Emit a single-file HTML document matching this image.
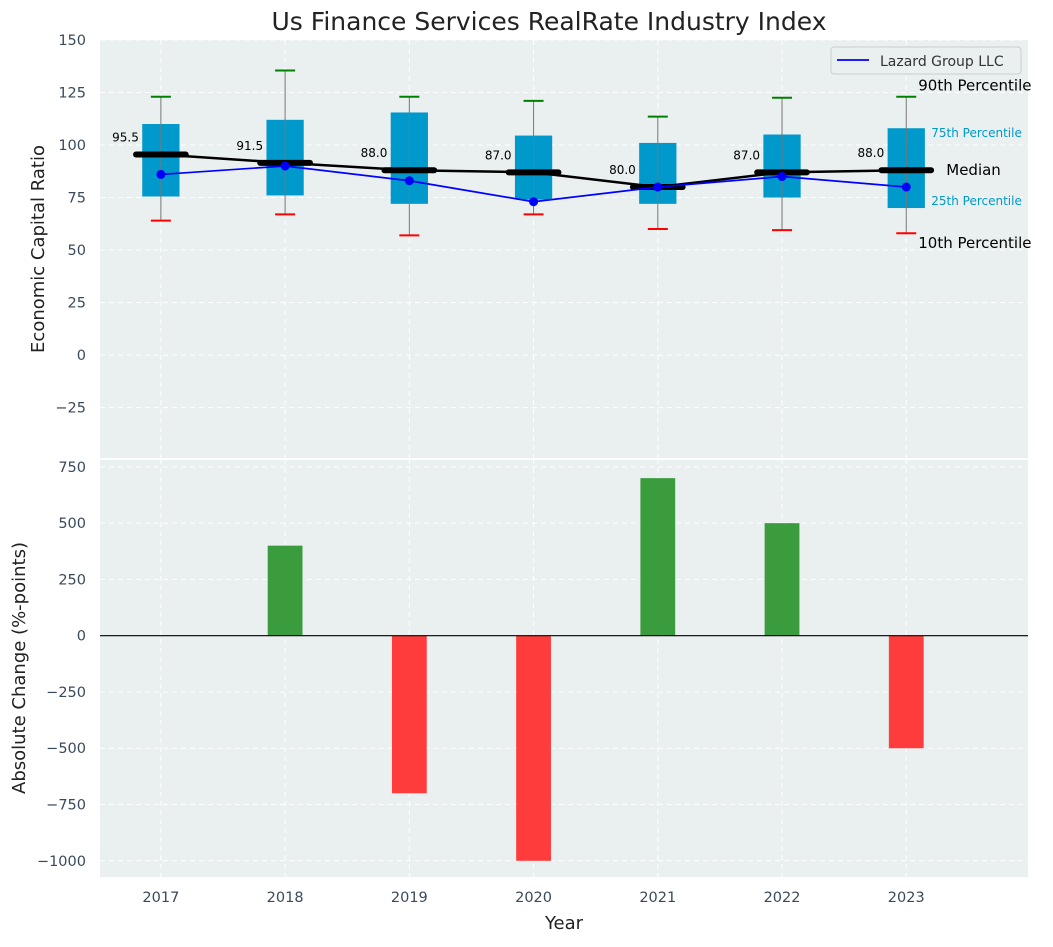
<!DOCTYPE html>
<html><head><meta charset="utf-8"><style>
body{margin:0;background:#fff;font-family:"Liberation Sans","DejaVu Sans",sans-serif}
svg text{font-family:"DejaVu Sans","Liberation Sans",sans-serif}
</style></head><body>
<svg id="c" width="1053" height="942" xmlns="http://www.w3.org/2000/svg"></svg>
<script>
const years=[2017,2018,2019,2020,2021,2022,2023];
const p10=[64,67,57,67,60,59.5,58];
const p25=[75.5,76,72,74,72,75,70];
const med=[95.5,91.5,88,87,80,87,88];
const p75=[110,112,115.5,104.5,101,105,108];
const p90=[123,135.5,123,121,113.5,122.5,123];
const lazard=[86,90,83,73,80,85,80];
const changes=[0,400,-700,-1000,700,500,-500];
const topTicks=[-25,0,25,50,75,100,125,150];
const botTicks=[-1000,-750,-500,-250,0,250,500,750];

const NS="http://www.w3.org/2000/svg";
const svg=document.getElementById('c');
function el(t,a,parent){const e=document.createElementNS(NS,t);for(const k in a)e.setAttribute(k,a[k]);(parent||svg).appendChild(e);return e;}
const L=100,R=1028;
const X=v=>L+(v-2016.51)/(2023.98-2016.51)*(R-L);
const T0=40,T1=458,B0=459,B1=877;
const Yt=v=>T0+(150-v)/(150-(-49))*(T1-T0);
const Yb=v=>B0+(785-v)/(785-(-1072))*(B1-B0);

let e=el('rect',{x:L,y:T0,width:R-L,height:T1-T0,fill:'#eaeff0'});

e=el('rect',{x:L,y:B0+1,width:R-L,height:B1-B0-1,fill:'#eaeff0'});


topTicks.forEach(t=>{const y=Yt(t);
 el('line',{x1:L,x2:R,y1:y,y2:y,stroke:'#fff','stroke-dasharray':'5,4','stroke-width':1});
 const tx=el('text',{x:L-14,y:y+5,'text-anchor':'end','font-size':14.5,fill:'#3a4a5c'});tx.textContent=String(t).replace('-','−');
 });
botTicks.forEach(t=>{const y=Yb(t);
 el('line',{x1:L,x2:R,y1:y,y2:y,stroke:'#fff','stroke-dasharray':'5,4','stroke-width':1});
 const tx=el('text',{x:L-14,y:y+5,'text-anchor':'end','font-size':14.5,fill:'#3a4a5c'});tx.textContent=String(t).replace('-','−');
 });
years.forEach(yr=>{const x=X(yr);
 el('line',{x1:x,x2:x,y1:T0,y2:T1,stroke:'#fff','stroke-dasharray':'5,4'});
 el('line',{x1:x,x2:x,y1:B0,y2:B1,stroke:'#fff','stroke-dasharray':'5,4'});
 const tx=el('text',{x:x,y:B1+25,'text-anchor':'middle','font-size':14.5,fill:'#3a4a5c'});tx.textContent=yr;
 });

const bw=(X(1)-X(0))*0.3;
years.forEach((yr,i)=>{const x=X(yr);
 let r=el('rect',{x:x-bw/2,y:Yt(p75[i]),width:bw,height:Yt(p25[i])-Yt(p75[i]),fill:'#0099cc'});
 
 el('line',{x1:x,x2:x,y1:Yt(p90[i]),y2:Yt(p10[i]),stroke:'#777','stroke-width':1});
 el('line',{x1:x-10,x2:x+10,y1:Yt(p90[i]),y2:Yt(p90[i]),stroke:'green','stroke-width':2});
 el('line',{x1:x-10,x2:x+10,y1:Yt(p10[i]),y2:Yt(p10[i]),stroke:'red','stroke-width':2});
});
let mp=years.map((yr,i)=>X(yr)+','+Yt(med[i])).join(' ');
e=el('polyline',{points:mp,fill:'none',stroke:'#000','stroke-width':2.5});

const mw=(X(1)-X(0))*0.4;
years.forEach((yr,i)=>{const x=X(yr),y=Yt(med[i]);
 const m=el('line',{x1:x-mw/2,x2:x+mw/2,y1:y,y2:y,stroke:'#000','stroke-width':6,'stroke-linecap':'round'});
 
 const t=el('text',{x:x-22,y:y-13,'text-anchor':'end','font-size':12,fill:'#000'});t.textContent=med[i].toFixed(1);
 });
e=el('polyline',{points:years.map((yr,i)=>X(yr)+','+Yt(lazard[i])).join(' '),fill:'none',stroke:'#0000ff','stroke-width':1.7});

years.forEach((yr,i)=>{const c=el('circle',{cx:X(yr),cy:Yt(lazard[i]),r:4.5,fill:'#0000ff'});
 });

const xa=X(2023);
[['90th Percentile',p90[6],12,'#000',15,-6],['75th Percentile',p75[6],25,'#0099cc',12,9],['Median',med[6],40,'#000',15,5],['25th Percentile',p25[6],25,'#0099cc',12,-3],['10th Percentile',p10[6],12,'#000',15,15]]
.forEach(a=>{const t=el('text',{x:xa+a[2],y:Yt(a[1])+a[5],'font-size':a[4],fill:a[3]});t.textContent=a[0];
 });

const lg=el('g',{});
el('rect',{x:831,y:47,width:190,height:27,rx:3,fill:'#eaeff0',stroke:'#ccc'},lg);
el('line',{x1:837,x2:869,y1:60,y2:60,stroke:'#0000ff','stroke-width':1.7},lg);
const lt=el('text',{x:880,y:66,'font-size':14,fill:'#333'},lg);lt.textContent='Lazard Group LLC';

const bbw=(X(1)-X(0))*0.28;
years.forEach((yr,i)=>{const v=changes[i];if(v===0)return;const y0=Yb(0),y1=Yb(v);
 const b=el('rect',{x:X(yr)-bbw/2,y:Math.min(y0,y1),width:bbw,height:Math.abs(y1-y0),fill:v>0?'#3a9c3c':'#ff3c3c'});
 });
el('line',{x1:L,x2:R,y1:Yb(0),y2:Yb(0),stroke:'#000','stroke-width':1.2});

let t=el('text',{x:549,y:30,'text-anchor':'middle','font-size':25,fill:'#222'});t.textContent='Us Finance Services RealRate Industry Index';

t=el('text',{x:0,y:0,'text-anchor':'middle','font-size':18,fill:'#222',transform:`translate(44,${(T0+T1)/2}) rotate(-90)`});t.textContent='Economic Capital Ratio';

t=el('text',{x:0,y:0,'text-anchor':'middle','font-size':18,fill:'#222',transform:`translate(25,${(B0+B1)/2}) rotate(-90)`});t.textContent='Absolute Change (%-points)';

t=el('text',{x:(L+R)/2,y:929,'text-anchor':'middle','font-size':18,fill:'#222'});t.textContent='Year';

</script>
</body></html>
